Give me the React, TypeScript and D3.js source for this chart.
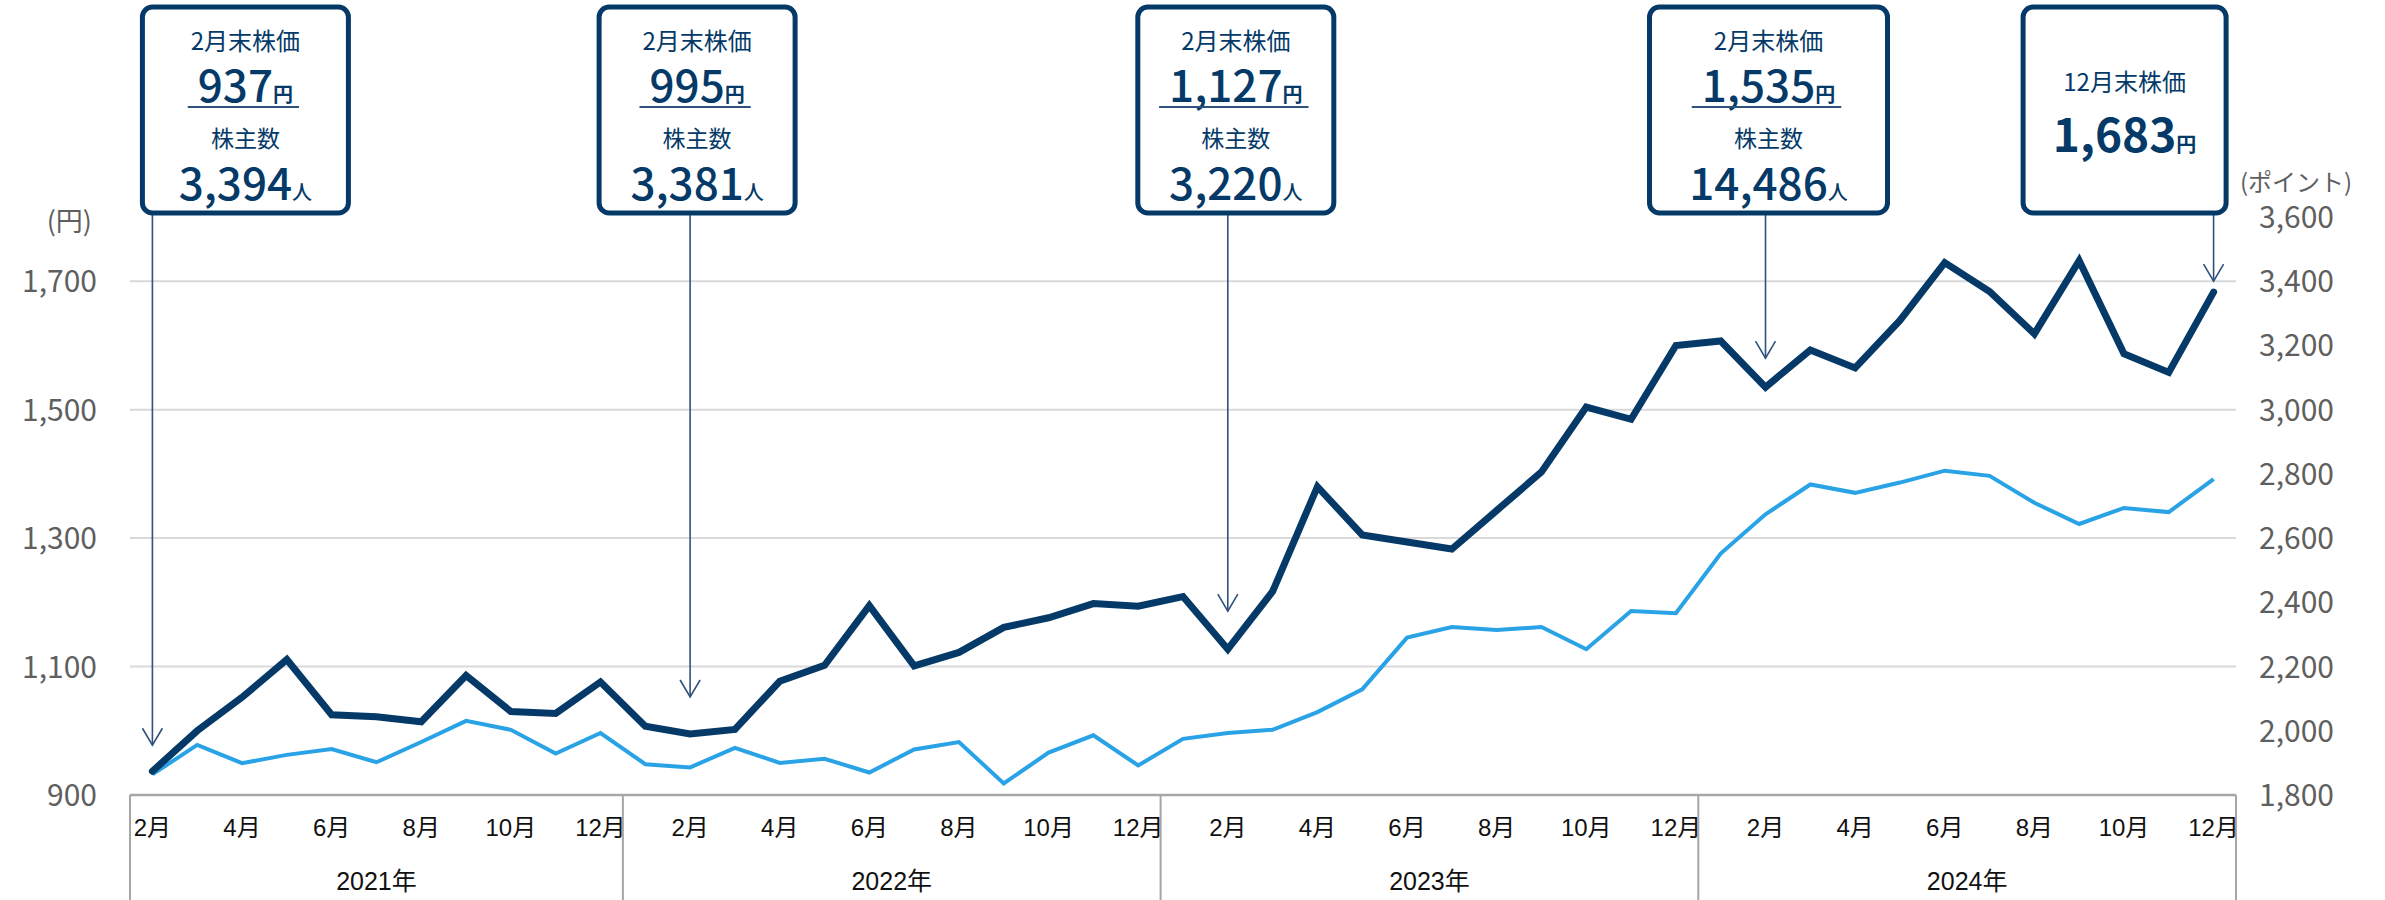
import { useRef, useEffect } from 'react'
import * as d3 from 'd3'

const W = 2385
const H = 900

// month keys, Feb 2021 .. Dec 2024
const months = [
  '2021-02', '2021-03', '2021-04', '2021-05', '2021-06', '2021-07', '2021-08', '2021-09', '2021-10', '2021-11', '2021-12',
  '2022-01', '2022-02', '2022-03', '2022-04', '2022-05', '2022-06', '2022-07', '2022-08', '2022-09', '2022-10', '2022-11', '2022-12',
  '2023-01', '2023-02', '2023-03', '2023-04', '2023-05', '2023-06', '2023-07', '2023-08', '2023-09', '2023-10', '2023-11', '2023-12',
  '2024-01', '2024-02', '2024-03', '2024-04', '2024-05', '2024-06', '2024-07', '2024-08', '2024-09', '2024-10', '2024-11', '2024-12',
]

// month-end share price (円, left axis)
const stockPrice = [
  937, 1000, 1052, 1111, 1025, 1022, 1014, 1086, 1030, 1027, 1076,
  1007, 995, 1002, 1077, 1102, 1195, 1101, 1122, 1161, 1176, 1198, 1194,
  1209, 1127, 1217, 1380, 1305, 1294, 1283, 1343, 1403, 1504, 1485, 1600,
  1607, 1535, 1593, 1565, 1639, 1729, 1684, 1618, 1732, 1587, 1558, 1683,
]

// index (ポイント, right axis)
const indexPoints = [
  1864, 1956, 1899, 1925, 1943, 1902, 1965, 2031, 2003, 1929, 1993,
  1896, 1886, 1947, 1900, 1913, 1870, 1942, 1965, 1836, 1932, 1986, 1892,
  1975, 1993, 2003, 2058, 2129, 2290, 2323, 2314, 2323, 2254, 2373, 2366,
  2552, 2674, 2767, 2741, 2773, 2810, 2794, 2710, 2644, 2694, 2681, 2784,
]

const leftTicks = [900, 1100, 1300, 1500, 1700]
const rightTicks = [1800, 2000, 2200, 2400, 2600, 2800, 3000, 3200, 3400, 3600]

const calloutMonths = ['2021-02', '2022-02', '2023-02', '2024-02', '2024-12']
const calloutTitles = ['2月末株価', '2月末株価', '2月末株価', '2月末株価', '12月末株価']
const calloutPrices = ['937', '995', '1,127', '1,535', '1,683']
const calloutHolders = ['3,394', '3,381', '3,220', '14,486', '']

// box placement relative to the arrow (layout only)
const calloutLayout = [
  { dx: 93, w: 206, gap: 26 },
  { dx: 7, w: 196, gap: 37 },
  { dx: 8, w: 196, gap: 38 },
  { dx: 3, w: 238, gap: 29 },
  { dx: -89, w: 203, gap: 11 },
]

const NAVY = '#053a68'
const BLUE = '#29a3e6'
const JP = "'Noto Sans CJK JP', 'Noto Sans', sans-serif"
const LATIN = "'Liberation Sans', Arial, 'Noto Sans CJK JP', sans-serif"

export default function App() {
  const svgRef = useRef<SVGSVGElement>(null)

  useEffect(() => {
    if (!svgRef.current) return
    const svg = d3.select(svgRef.current)
    svg.selectAll('*').remove()

    const left = 130
    const right = 2236
    const top = 217
    const base = 795

    const x = d3.scaleBand<string>().domain(months).range([left, right]).padding(0)
    const bw = x.bandwidth()
    const cx = (m: string) => (x(m) ?? 0) + bw / 2
    const yL = d3.scaleLinear().domain([900, 1800]).range([base, top])
    const yR = d3.scaleLinear().domain([1800, 3600]).range([base, top])

    // gridlines
    svg.append('g')
      .selectAll('line')
      .data(leftTicks.slice(1))
      .join('line')
      .attr('x1', left).attr('x2', right)
      .attr('y1', (d) => yL(d)).attr('y2', (d) => yL(d))
      .attr('stroke', '#d9d9d9').attr('stroke-width', 2)

    // left axis labels
    svg.append('g')
      .selectAll('text')
      .data(leftTicks)
      .join('text')
      .attr('x', 97).attr('y', (d) => yL(d) + 11)
      .attr('text-anchor', 'end')
      .attr('fill', '#5f5f5f')
      .attr('font-family', JP).attr('font-size', 30)
      .text((d) => d3.format(',')(d))

    // right axis labels
    svg.append('g')
      .selectAll('text')
      .data(rightTicks)
      .join('text')
      .attr('x', 2259).attr('y', (d) => yR(d) + 11)
      .attr('text-anchor', 'start')
      .attr('fill', '#5f5f5f')
      .attr('font-family', JP).attr('font-size', 30)
      .text((d) => d3.format(',')(d))

    svg.append('text')
      .attr('x', 92).attr('y', 231)
      .attr('text-anchor', 'end')
      .attr('fill', '#5f5f5f').attr('font-family', JP).attr('font-size', 27)
      .text('(円)')
    svg.append('text')
      .attr('x', 2240).attr('y', 191)
      .attr('fill', '#5f5f5f').attr('font-family', JP).attr('font-size', 24)
      .text('(ポイント)')

    // x axis: baseline, year boxes, month labels
    svg.append('line')
      .attr('x1', left).attr('x2', right).attr('y1', base).attr('y2', base)
      .attr('stroke', '#a6a6a6').attr('stroke-width', 2.5)

    const years = Array.from(new Set(months.map((m) => m.slice(0, 4))))
    const yearSpans = years.map((yr) => {
      const ms = months.filter((m) => m.startsWith(yr))
      return { yr, x0: x(ms[0]) ?? 0, x1: (x(ms[ms.length - 1]) ?? 0) + bw }
    })
    const edges = [left, ...yearSpans.map((s) => s.x1)]
    svg.append('g')
      .selectAll('line')
      .data(edges)
      .join('line')
      .attr('x1', (d) => d).attr('x2', (d) => d)
      .attr('y1', base).attr('y2', H)
      .attr('stroke', '#a6a6a6').attr('stroke-width', 2)

    svg.append('g')
      .selectAll('text')
      .data(yearSpans)
      .join('text')
      .attr('x', (d) => (d.x0 + d.x1) / 2).attr('y', 890)
      .attr('text-anchor', 'middle')
      .attr('fill', '#111').attr('font-family', LATIN).attr('font-size', 25)
      .text((d) => `${d.yr}年`)

    svg.append('g')
      .selectAll('text')
      .data(months.filter((m) => +m.slice(5) % 2 === 0))
      .join('text')
      .attr('x', (d) => cx(d)).attr('y', 836)
      .attr('text-anchor', 'middle')
      .attr('fill', '#111').attr('font-family', LATIN).attr('font-size', 24)
      .text((d) => `${+d.slice(5)}月`)

    // series lines
    const lineIdx = d3.line<number>().x((_, i) => cx(months[i])).y((d) => yR(d))
    const linePrice = d3.line<number>().x((_, i) => cx(months[i])).y((d) => yL(d))

    svg.append('path')
      .attr('d', lineIdx(indexPoints) ?? '')
      .attr('fill', 'none').attr('stroke', BLUE).attr('stroke-width', 4)
      .attr('stroke-linejoin', 'miter')
    svg.append('path')
      .attr('d', linePrice(stockPrice) ?? '')
      .attr('fill', 'none').attr('stroke', NAVY).attr('stroke-width', 7)
      .attr('stroke-linejoin', 'miter').attr('stroke-linecap', 'round')

    // callouts
    const boxTop = 7
    const boxH = 206
    calloutMonths.forEach((m, i) => {
      const lay = calloutLayout[i]
      const ax = cx(m)
      const val = stockPrice[months.indexOf(m)]
      const tip = yL(val) - lay.gap
      const bx = ax + lay.dx
      const g = svg.append('g')

      g.append('line')
        .attr('x1', ax).attr('x2', ax).attr('y1', boxTop + boxH).attr('y2', tip)
        .attr('stroke', '#2f527c').attr('stroke-width', 1.6)
      g.append('path')
        .attr('d', `M${ax - 10},${tip - 17}L${ax},${tip}L${ax + 10},${tip - 17}`)
        .attr('fill', 'none').attr('stroke', '#2f527c').attr('stroke-width', 1.6)

      g.append('rect')
        .attr('x', bx - lay.w / 2).attr('y', boxTop)
        .attr('width', lay.w).attr('height', boxH)
        .attr('rx', 10)
        .attr('fill', '#fff').attr('stroke', NAVY).attr('stroke-width', 5)

      const hasHolders = calloutHolders[i] !== ''
      const titleY = hasHolders ? 50 : 91
      const priceY = hasHolders ? 102 : 152

      g.append('text')
        .attr('x', bx).attr('y', titleY)
        .attr('text-anchor', 'middle')
        .attr('fill', NAVY).attr('font-family', JP).attr('font-size', 24)
        .text(calloutTitles[i])

      const pt = g.append('text')
        .attr('x', bx).attr('y', priceY)
        .attr('text-anchor', 'middle')
        .attr('fill', NAVY).attr('font-family', JP)
        .attr('font-weight', hasHolders ? 500 : 700)
      pt.append('tspan').attr('font-size', hasHolders ? 44 : 46).text(calloutPrices[i])
      pt.append('tspan').attr('font-size', 20).attr('font-weight', 700).text('円')

      if (hasHolders) {
        const tw = (pt.node() as SVGTextElement).getComputedTextLength()
        g.append('line')
          .attr('x1', bx - tw / 2 - 10).attr('x2', bx + tw / 2 + 6)
          .attr('y1', 107).attr('y2', 107)
          .attr('stroke', '#2f527c').attr('stroke-width', 2)

        g.append('text')
          .attr('x', bx).attr('y', 147)
          .attr('text-anchor', 'middle')
          .attr('fill', NAVY).attr('font-family', JP).attr('font-size', 23)
          .text('株主数')

        const ht = g.append('text')
          .attr('x', bx).attr('y', 200)
          .attr('text-anchor', 'middle')
          .attr('fill', NAVY).attr('font-family', JP).attr('font-weight', 500)
        ht.append('tspan').attr('font-size', 44).text(calloutHolders[i])
        ht.append('tspan').attr('font-size', 20).text('人')
      }
    })

    return () => {
      svg.selectAll('*').remove()
    }
  }, [])

  return (
    <svg
      ref={svgRef}
      width={W}
      height={H}
      style={{ position: 'absolute', left: 0, top: 0, background: '#fff' }}
    />
  )
}
